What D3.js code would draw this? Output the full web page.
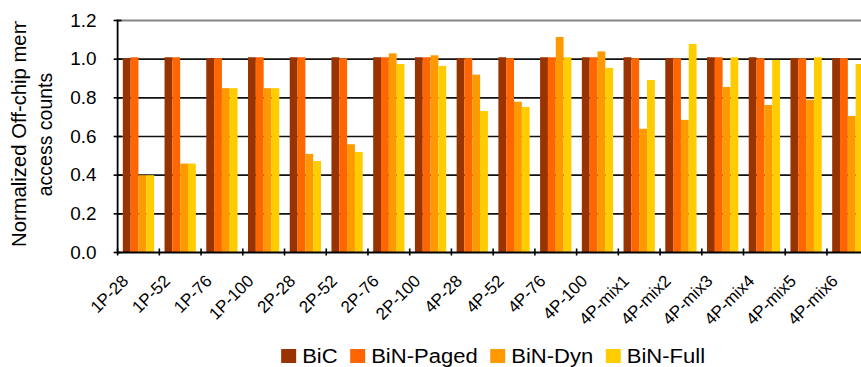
<!DOCTYPE html>
<html>
<head>
<meta charset="utf-8">
<script src="https://cdn.jsdelivr.net/npm/d3@7/dist/d3.min.js"></script>
<style>
  html, body { margin: 0; padding: 0; background: #fff; }
  svg { display: block; overflow: hidden; }
  text { font-family: "Liberation Sans", Arial, Helvetica, sans-serif; fill: #000; }
</style>
</head>
<body>
<svg id="chart" width="861" height="367"></svg>
<script>
// Workload configurations along the x axis
const categories = ["1P-28", "1P-52", "1P-76", "1P-100", "2P-28", "2P-52", "2P-76", "2P-100",
  "4P-28", "4P-52", "4P-76", "4P-100", "4P-mix1", "4P-mix2", "4P-mix3", "4P-mix4", "4P-mix5", "4P-mix6"];

// Normalized off-chip memory access counts per scheme
const seriesNames = ["BiC", "BiN-Paged", "BiN-Dyn", "BiN-Full"];
const bic      = [1.005, 1.01, 1.005, 1.01, 1.01, 1.01, 1.01, 1.01, 1.005, 1.01, 1.01, 1.01, 1.01, 1.005, 1.01, 1.01, 1.005, 1.005];
const binPaged = [1.01, 1.01, 1.005, 1.01, 1.01, 1.005, 1.01, 1.01, 1.005, 1.005, 1.01, 1.01, 1.005, 1.005, 1.01, 1.005, 1.005, 1.005];
const binDyn   = [0.40, 0.46, 0.85, 0.85, 0.51, 0.56, 1.03, 1.02, 0.92, 0.78, 1.115, 1.04, 0.64, 0.686, 0.856, 0.763, 0.79, 0.706];
const binFull  = [0.40, 0.46, 0.85, 0.85, 0.473, 0.52, 0.975, 0.965, 0.732, 0.753, 1.01, 0.955, 0.892, 1.079, 1.01, 0.996, 1.01, 0.975];
const seriesValues = [bic, binPaged, binDyn, binFull];
const colors = ["#993300", "#FF6600", "#FF9900", "#FFCC00"];

// Y axis tick values
const yTicks = [0, 0.2, 0.4, 0.6, 0.8, 1.0, 1.2];

const svg = d3.select("#chart");
const plot = { left: 117.6, right: 868.7, top: 20.5, bottom: 252.5 };

const x = d3.scaleBand()
  .domain(categories)
  .range([plot.left, plot.right])
  .paddingInner(0.25)
  .paddingOuter(0.125);

const xs = d3.scaleBand()
  .domain(seriesNames)
  .range([0, x.bandwidth()]);

const y = d3.scaleLinear()
  .domain([0, 1.2])
  .range([plot.bottom, plot.top]);

// Horizontal gridlines
svg.append("g")
  .selectAll("line")
  .data(yTicks.filter(t => t > 0 && t < 1.2))
  .join("line")
  .attr("x1", plot.left).attr("x2", plot.right)
  .attr("y1", d => y(d)).attr("y2", d => y(d))
  .attr("stroke", "#111").attr("stroke-width", 1.6);

// Top frame line
svg.append("line")
  .attr("x1", plot.left).attr("x2", plot.right)
  .attr("y1", y(1.2)).attr("y2", y(1.2))
  .attr("stroke", "#858585").attr("stroke-width", 1.8);

// Bars
const rows = categories.map((c, i) => ({ cat: c, vals: seriesValues.map((s, k) => ({ name: seriesNames[k], v: s[i], k })) }));
svg.append("g")
  .selectAll("g")
  .data(rows)
  .join("g")
  .attr("transform", d => `translate(${x(d.cat)},0)`)
  .selectAll("rect")
  .data(d => d.vals)
  .join("rect")
  .attr("x", d => xs(d.name))
  .attr("width", xs.bandwidth())
  .attr("y", d => y(d.v))
  .attr("height", d => y(0) - y(d.v))
  .attr("fill", d => colors[d.k]);

// Axes lines
svg.append("line")
  .attr("x1", plot.left).attr("x2", plot.left)
  .attr("y1", y(1.2) - 1).attr("y2", plot.bottom + 1)
  .attr("stroke", "#000").attr("stroke-width", 1.8);
svg.append("line")
  .attr("x1", plot.left).attr("x2", plot.right)
  .attr("y1", plot.bottom).attr("y2", plot.bottom)
  .attr("stroke", "#000").attr("stroke-width", 1.8);

// Y ticks (cross marks) and labels
svg.append("g")
  .selectAll("line")
  .data(yTicks)
  .join("line")
  .attr("x1", plot.left - 4).attr("x2", plot.left + 4)
  .attr("y1", d => y(d)).attr("y2", d => y(d))
  .attr("stroke", "#000").attr("stroke-width", 1.6);

svg.append("g")
  .selectAll("text")
  .data(yTicks)
  .join("text")
  .attr("transform", d => `translate(96.5,${y(d)}) scale(1.08,1)`)
  .attr("dy", "0.35em")
  .attr("text-anchor", "end")
  .attr("font-size", "17.5px")
  .text(d => d3.format(".1f")(d));

// X ticks at category boundaries
const gap = (x.step() - x.bandwidth()) / 2;
svg.append("g")
  .selectAll("line")
  .data(categories)
  .join("line")
  .attr("x1", d => x(d) - gap).attr("x2", d => x(d) - gap)
  .attr("y1", plot.bottom - 4).attr("y2", plot.bottom + 3)
  .attr("stroke", "#000").attr("stroke-width", 1.6);

// X labels, rotated
svg.append("g")
  .selectAll("text")
  .data(categories)
  .join("text")
  .attr("transform", d => `translate(${x(d) + x.bandwidth() / 2 - 9},282) rotate(-45)`)
  .attr("text-anchor", "end")
  .attr("font-size", "17px")
  .text(d => d);

// Y axis title (first line clipped at the plot top)
svg.append("defs").append("clipPath").attr("id", "titleClip")
  .append("rect").attr("x", 0).attr("y", 21).attr("width", 70).attr("height", 340);
svg.append("g").attr("clip-path", "url(#titleClip)")
  .append("text")
  .attr("transform", "translate(25.5,247) rotate(-90)")
  .attr("text-anchor", "start")
  .attr("font-size", "20.3px")
  .text("Normalized Off-chip memory");
svg.append("text")
  .attr("transform", "translate(52,134.5) rotate(-90)")
  .attr("text-anchor", "middle")
  .attr("font-size", "19.5px")
  .text("access counts");

// Legend
const legendStretch = 1.13;
const legend = svg.append("g");
const items = legend.selectAll("g")
  .data(seriesNames)
  .join("g");
items.append("rect")
  .attr("width", 15).attr("height", 14)
  .attr("y", 349)
  .attr("fill", (d, i) => colors[i]);
items.append("text")
  .attr("font-size", "19.5px")
  .text(d => d);
let cursor = 0;
const layout = [];
items.each(function () {
  const w = d3.select(this).select("text").node().getComputedTextLength() * legendStretch;
  layout.push({ x: cursor, w });
  cursor += 15 + 6 + w + 12.5;
});
const total = cursor - 12.5;
const start = (plot.left + plot.right) / 2 - total / 2;
items.each(function (d, i) {
  const g = d3.select(this);
  const x0 = start + layout[i].x;
  g.select("rect").attr("x", x0);
  g.select("text").attr("transform", `translate(${x0 + 21},362.5) scale(${legendStretch},1)`);
});
</script>
</body>
</html>
